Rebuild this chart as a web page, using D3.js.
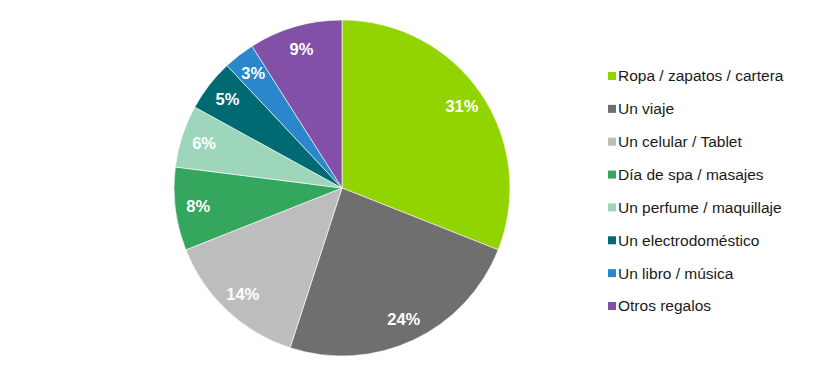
<!DOCTYPE html>
<html><head><meta charset="utf-8">
<script src="https://cdn.jsdelivr.net/npm/d3@7"></script>
<style>body{margin:0;background:#fff}svg{display:block}</style>
</head><body><svg id="c" width="838" height="390"></svg>
<script>
const categories = ["Ropa / zapatos / cartera","Un viaje","Un celular / Tablet","Día de spa / masajes","Un perfume / maquillaje","Un electrodoméstico","Un libro / música","Otros regalos"];
const values = [31,24,14,8,6,5,3,9];
const colors = ["#92d400","#6f6f6f","#bdbdbd","#34a65e","#9dd6bb","#006a72","#2a87cc","#8350a8"];

const svg = d3.select("#c");
const cx = 342, cy = 188, r = 168;
const g = svg.append("g").attr("transform",`translate(${cx},${cy})`);
const pie = d3.pie().sort(null).value(d=>d)(values);
const arc = d3.arc().innerRadius(0).outerRadius(r);
const labelArc = d3.arc().innerRadius(145).outerRadius(145);
g.selectAll("path").data(pie).join("path")
  .attr("d",arc).attr("fill",(d,i)=>colors[i])
  .attr("stroke","#fff").attr("stroke-width",0.6);
g.selectAll("text").data(pie).join("text")
  .attr("transform",d=>`translate(${labelArc.centroid(d)})`)
  .attr("text-anchor","middle").attr("dominant-baseline","central")
  .attr("font-family","Arial, 'Liberation Sans', sans-serif")
  .attr("font-size",16.5).attr("font-weight","bold").attr("fill","#fff")
  .text(d=>d.data+"%");

const leg = svg.append("g");
const y = d3.scalePoint().domain(categories).range([76,306]);
const items = leg.selectAll("g").data(categories).join("g")
  .attr("transform",d=>`translate(608,${y(d)})`);
items.append("rect").attr("x",0).attr("y",-4).attr("width",8).attr("height",8)
  .attr("fill",(d,i)=>colors[i]);
items.append("text").attr("x",10).attr("dy","0.35em")
  .attr("font-family","Arial, 'Liberation Sans', sans-serif")
  .attr("font-size",15.5).attr("fill","#1a1a1a").text(d=>d);
</script></body></html>
